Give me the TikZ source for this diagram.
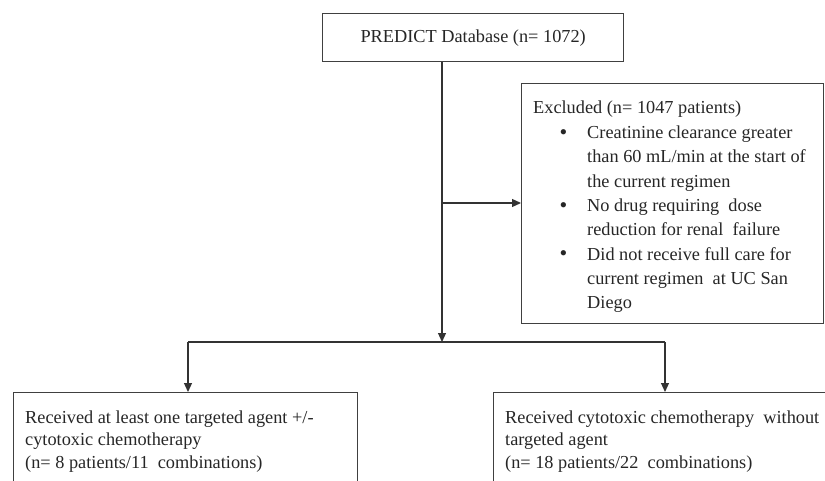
\documentclass[tikz,border=0pt]{standalone}
\usepackage{fontspec}
\setmainfont{Liberation Serif}
\usetikzlibrary{arrows.meta}
\begin{document}
\begin{tikzpicture}[x=1pt,y=-1pt,
  box/.style={draw=black!75, line width=1.3pt, inner sep=0pt, anchor=north west},
  txt/.style={inner sep=0pt, align=left, text=black!85, font=\fontsize{18.3}{24.25}\selectfont},
  txtb/.style={inner sep=0pt, align=left, text=black!85, font=\fontsize{18.3}{22.5}\selectfont},
  bul/.style={inner sep=0pt, text=black!85, anchor=base west, font=\fontsize{22}{22}\selectfont},
  conn/.style={draw=black!80, line width=1.2pt},
  arr/.style={conn, -{Triangle[length=9pt,width=8pt]}}]
\useasboundingbox (0,0) rectangle (825,481);
\clip (0,0) rectangle (825,481);
% boxes
\node[box, minimum width=301pt, minimum height=48pt, text=black!85,
      font=\fontsize{18.3}{22}\selectfont] (top) at (322,13) {PREDICT Database (n= 1072)};
\node[box, minimum width=302pt, minimum height=240pt] (excl) at (521,83) {};
\node[box, minimum width=344pt, minimum height=140pt] (left) at (13,392) {};
\node[box, minimum width=360pt, minimum height=140pt] (right) at (493,392) {};
% excluded text
\node[txt, anchor=base west] (exhead) at (533,114) {Excluded (n= 1047 patients)};
\node[bul] (b1) at (559.5,139.5) {\textbullet};
\node[bul] (b2) at (559.5,212.25) {\textbullet};
\node[bul] (b3) at (559.5,261) {\textbullet};
\node[txt, anchor=north west] (i1) at (587,125.75) {Creatinine clearance greater\\than 60 mL/min at the start of\\the current regimen};
\node[txt, anchor=north west] (i2) at (587,198.5) {No drug requiring\ \ dose\\reduction for renal\ \ failure};
\node[txt, anchor=north west] (i3) at (587,247) {Did not receive full care for\\current regimen\ \ at UC San\\Diego};
% bottom texts
\node[txtb, anchor=north west] (lt) at (25,410.5) {Received at least one targeted agent +/-\\cytotoxic chemotherapy\\(n= 8 patients/11\ \ combinations)};
\node[txtb, anchor=north west] (rt) at (505,410.5) {Received cytotoxic chemotherapy\ \ without\\targeted agent\\(n= 18 patients/22\ \ combinations)};
% connectors
\coordinate (j1) at (442,203);
\coordinate (j2) at (442,342);
\coordinate (hl) at (188,342);
\coordinate (hr) at (665,342);
\draw[arr] (top.south -| j2) -- (j2);
\draw[arr] (j1) -- (j1 -| excl.west);
\draw[conn] (hl) -- (hr);
\draw[arr] (hl) -- (hl |- left.north);
\draw[arr] (hr) -- (hr |- right.north);
\end{tikzpicture}
\end{document}
